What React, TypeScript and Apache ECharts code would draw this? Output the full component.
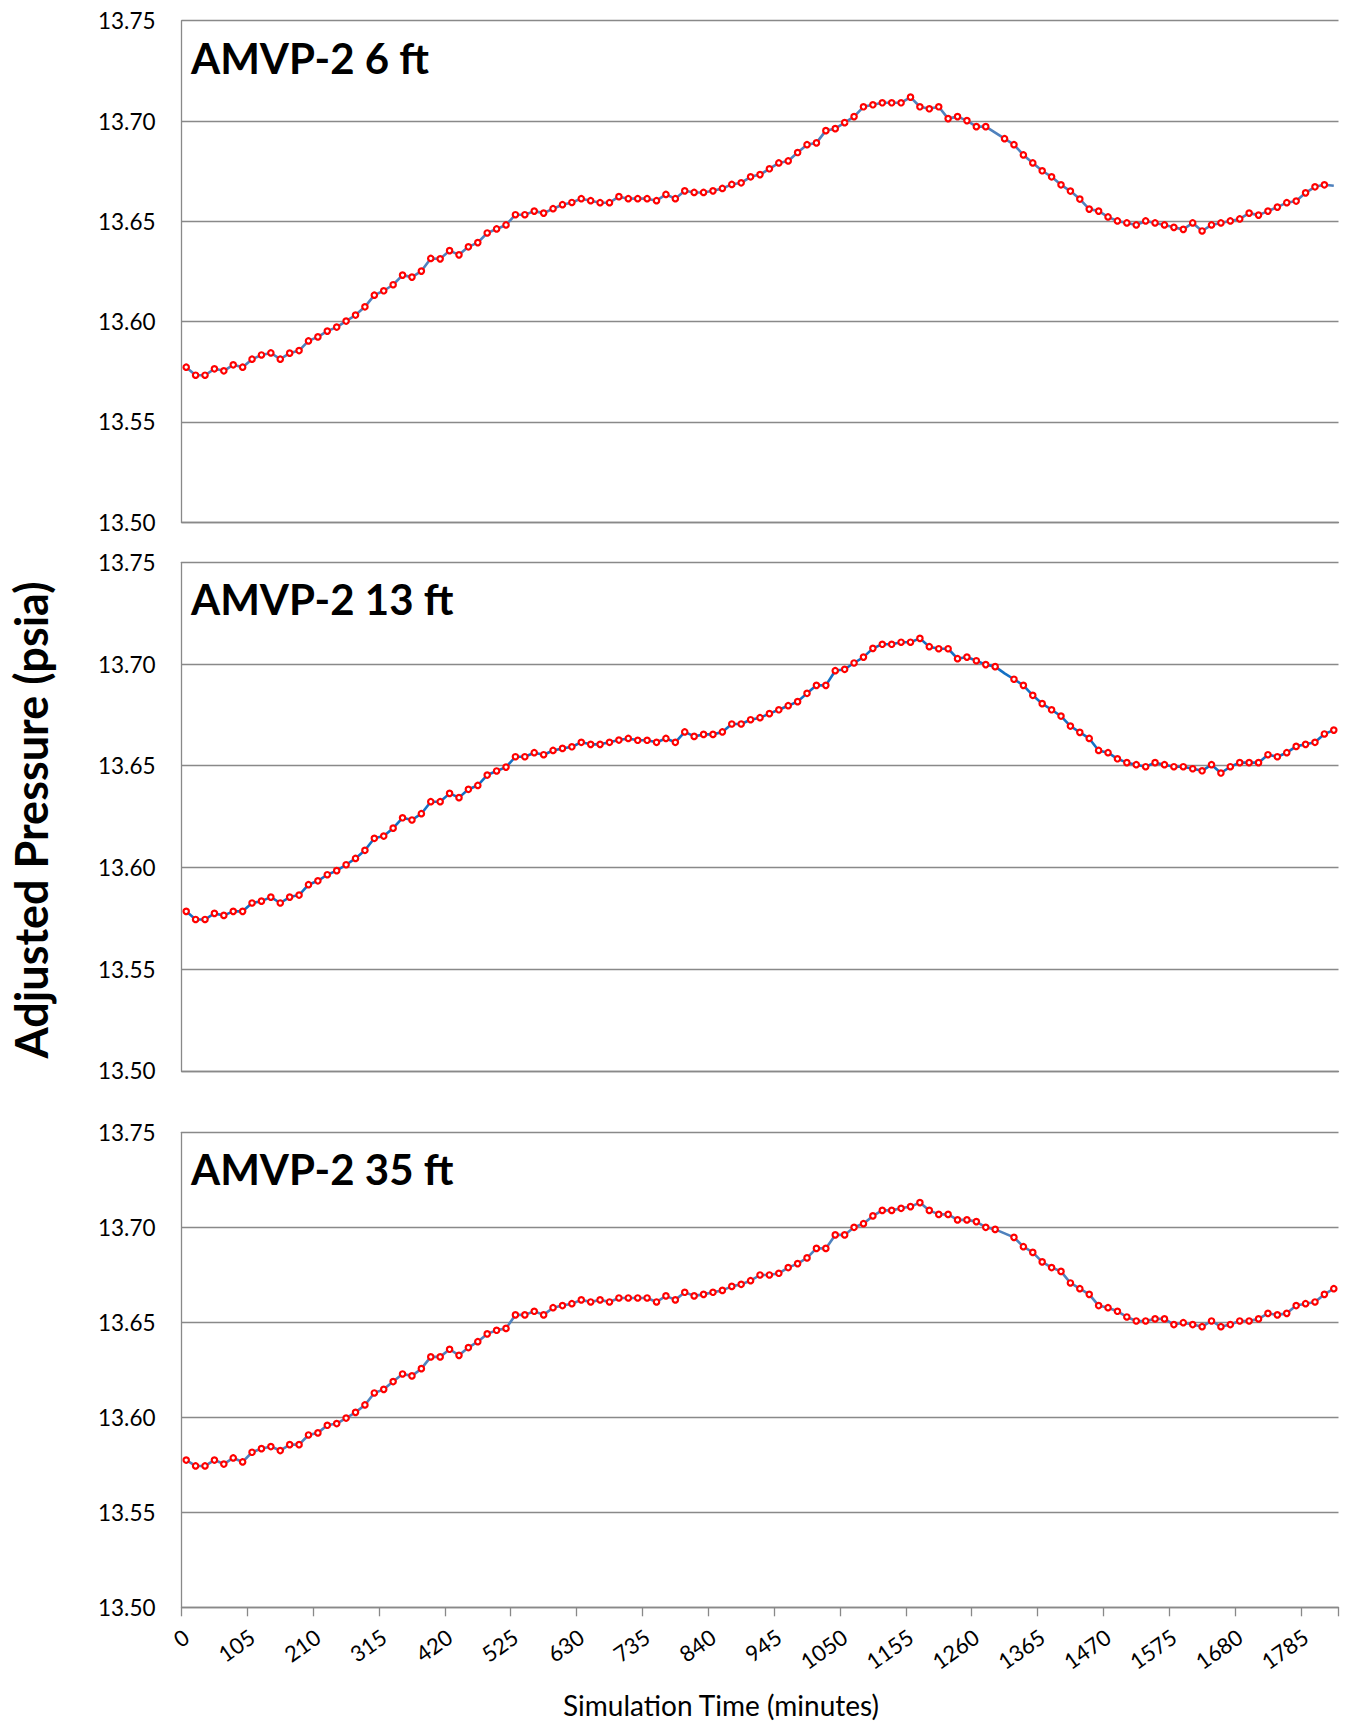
import React, { useEffect, useRef } from "react";
import * as echarts from "echarts";

// Category axis: simulation time in minutes, one category every 15 minutes
const timeMinutes: string[] = Array.from({ length: 123 }, (_, i) => String(i * 15));

const panelTitles = ["AMVP-2 6 ft", "AMVP-2 13 ft", "AMVP-2 35 ft"];
const yAxisTitle = "Adjusted Pressure (psia)";
const xAxisTitle = "Simulation Time (minutes)";

// Adjusted pressure (psia), AMVP-2 6 ft
const p6ft = [
  13.5773, 13.5733, 13.5733, 13.5765, 13.5755, 13.5785, 13.5773, 13.5813, 13.5834, 13.5844,
  13.5813, 13.5843, 13.5856, 13.5904, 13.5924, 13.5953, 13.5973, 13.6003, 13.6033, 13.6074,
  13.6132, 13.6154, 13.6184, 13.6232, 13.6222, 13.6252, 13.6315, 13.6313, 13.6354, 13.6333,
  13.6373, 13.6394, 13.6442, 13.6462, 13.6482, 13.6533, 13.6533, 13.6551, 13.6541, 13.6563,
  13.6583, 13.6594, 13.6613, 13.6603, 13.6593, 13.6593, 13.6623, 13.6613, 13.6613, 13.6613,
  13.6603, 13.6634, 13.6613, 13.6652, 13.6644, 13.6644, 13.6652, 13.6664, 13.6684, 13.6692,
  13.6722, 13.6733, 13.6762, 13.6791, 13.6801, 13.6843, 13.6882, 13.6891, 13.6952, 13.6962,
  13.6992, 13.7022, 13.7071, 13.7081, 13.7091, 13.7091, 13.7091, 13.7119, 13.7071, 13.7061,
  13.7071, 13.7012, 13.7022, 13.7002, 13.6972, 13.6972, 13.6942, 13.6912, 13.6882, 13.6831,
  13.6791, 13.6752, 13.6722, 13.6682, 13.6651, 13.6611, 13.6561, 13.6551, 13.6522, 13.6502,
  13.6492, 13.6482, 13.6502, 13.6492, 13.6482, 13.647, 13.646, 13.6492, 13.6452, 13.6482,
  13.6492, 13.6502, 13.6512, 13.6541, 13.6531, 13.6551, 13.6571, 13.6593, 13.6601, 13.6642,
  13.6672, 13.6682, 13.6677,
];
const p6ftNoMarker = [86, 122];

// Adjusted pressure (psia), AMVP-2 13 ft
const p13ft = [
  13.5784, 13.5744, 13.5744, 13.5774, 13.5764, 13.5784, 13.5784, 13.5825, 13.5834, 13.5854,
  13.5825, 13.5854, 13.5864, 13.5915, 13.5934, 13.5964, 13.5984, 13.6013, 13.6044, 13.6084,
  13.6143, 13.6154, 13.6193, 13.6244, 13.6233, 13.6264, 13.6323, 13.6323, 13.6364, 13.6343,
  13.6384, 13.6403, 13.6454, 13.6474, 13.6493, 13.6544, 13.6544, 13.6564, 13.6554, 13.6575,
  13.6585, 13.6593, 13.6615, 13.6605, 13.6605, 13.6615, 13.6626, 13.6634, 13.6625, 13.6625,
  13.6615, 13.6634, 13.6615, 13.6666, 13.6644, 13.6654, 13.6654, 13.6666, 13.6705, 13.6705,
  13.6726, 13.6736, 13.6756, 13.6775, 13.6795, 13.6815, 13.6856, 13.6895, 13.6895, 13.6967,
  13.6974, 13.7005, 13.7034, 13.7077, 13.7097, 13.7097, 13.7107, 13.7107, 13.7126, 13.7085,
  13.7075, 13.7075, 13.7026, 13.7034, 13.7016, 13.6997, 13.6987, 13.6954, 13.6925, 13.6895,
  13.6846, 13.6805, 13.6775, 13.6744, 13.6695, 13.6664, 13.6634, 13.6575, 13.6564, 13.6534,
  13.6515, 13.6505, 13.6495, 13.6515, 13.6505, 13.6495, 13.6495, 13.6485, 13.6475, 13.6505,
  13.6464, 13.6495, 13.6515, 13.6515, 13.6515, 13.6554, 13.6544, 13.6564, 13.6595, 13.6605,
  13.6615, 13.6656, 13.6675,
];
const p13ftNoMarker = [87];

// Adjusted pressure (psia), AMVP-2 35 ft
const p35ft = [
  13.5775, 13.5744, 13.5744, 13.5775, 13.5754, 13.5786, 13.5765, 13.5816, 13.5835, 13.5846,
  13.5825, 13.5856, 13.5856, 13.5907, 13.5918, 13.5958, 13.5967, 13.5996, 13.6026, 13.6065,
  13.6128, 13.6147, 13.6188, 13.6228, 13.6218, 13.6256, 13.6318, 13.6318, 13.6358, 13.6326,
  13.6367, 13.6398, 13.6439, 13.6458, 13.6468, 13.6539, 13.6539, 13.6558, 13.6539, 13.6577,
  13.6588, 13.6598, 13.6618, 13.6607, 13.6618, 13.6607, 13.6628, 13.6628, 13.6628, 13.6628,
  13.6607, 13.6639, 13.6618, 13.6658, 13.6639, 13.6647, 13.6658, 13.6668, 13.6689, 13.67,
  13.6719, 13.6749, 13.6749, 13.6758, 13.6788, 13.6809, 13.6839, 13.6889, 13.6889, 13.696,
  13.696, 13.7, 13.7019, 13.706, 13.7089, 13.7089, 13.71, 13.7109, 13.713, 13.7089,
  13.7068, 13.7068, 13.7039, 13.7039, 13.703, 13.7, 13.6989, 13.6968, 13.6947, 13.6898,
  13.6868, 13.6818, 13.6788, 13.6768, 13.6707, 13.6677, 13.6647, 13.6588, 13.6577, 13.6558,
  13.6528, 13.6507, 13.6507, 13.6518, 13.6518, 13.6488, 13.6498, 13.6488, 13.6477, 13.6507,
  13.6477, 13.6488, 13.6507, 13.6507, 13.6518, 13.6547, 13.6539, 13.6547, 13.6588, 13.6598,
  13.6607, 13.6647, 13.6677,
];
const p35ftNoMarker = [87];

const yMin = 13.5;
const yMax = 13.75;
const yStep = 0.05;
const labelEvery = 7;

const FONT = "Lato";
const GRAY = "#898989";

export default function App() {
  const ref = useRef<HTMLDivElement>(null);

  useEffect(() => {
    document.body.style.margin = "0";
    if (!ref.current) return;
    const chart = echarts.init(ref.current, null, { renderer: "svg" });

    const panels = [
      { title: panelTitles[0], values: p6ft, noMarker: p6ftNoMarker, color: "#4F81BD", top: 20.7, height: 501.6 },
      { title: panelTitles[1], values: p13ft, noMarker: p13ftNoMarker, color: "#1470C4", top: 562.3, height: 508.5 },
      { title: panelTitles[2], values: p35ft, noMarker: p35ftNoMarker, color: "#4F81BD", top: 1132.3, height: 475 },
    ];
    const left = 181.5;
    const width = 1157;

    const option: any = {
      animation: false,
      backgroundColor: "#ffffff",
      grid: panels.map((p) => ({ left, width, top: p.top, height: p.height })),
      xAxis: panels.map((p, i) => ({
        type: "category",
        gridIndex: i,
        data: timeMinutes,
        boundaryGap: true,
        axisLine: { show: true, onZero: false, lineStyle: { color: GRAY, width: 1.3 } },
        axisTick: {
          show: i === 2,
          interval: labelEvery - 1,
          alignWithLabel: false,
          length: 9,
          lineStyle: { color: GRAY, width: 1.3 },
        },
        axisLabel: {
          show: i === 2,
          interval: labelEvery - 1,
          rotate: 35,
          margin: 27,
          fontFamily: FONT,
          fontSize: 22,
          color: "#000",
        },
        splitLine: { show: false },
      })),
      yAxis: panels.map((p, i) => ({
        type: "value",
        gridIndex: i,
        min: yMin,
        max: yMax,
        interval: yStep,
        axisLine: { show: true, lineStyle: { color: GRAY, width: 1.3 } },
        axisTick: { show: false },
        axisLabel: {
          formatter: (v: number) => v.toFixed(2),
          margin: 26,
          fontFamily: FONT,
          fontSize: 22.5,
          color: "#000",
        },
        splitLine: { show: true, lineStyle: { color: GRAY, width: 1.3 } },
      })),
      series: panels.map((p, i) => ({
        type: "line",
        name: p.title,
        xAxisIndex: i,
        yAxisIndex: i,
        data: p.values.map((v, k) => (p.noMarker.includes(k) ? { value: v, symbol: "none" } : v)),
        symbol: "circle",
        symbolSize: 5.4,
        showAllSymbol: true,
        lineStyle: { color: p.color, width: 2.6 },
        itemStyle: { color: "#ffffff", borderColor: "#FF0000", borderWidth: 2.2 },
        emphasis: { disabled: true },
        z: 3,
      })),
      graphic: [
        ...panels.map((p) => ({
          type: "text",
          x: 191,
          y: p.top + 37,
          style: {
            text: p.title,
            fontFamily: FONT,
            fontSize: 42,
            fontWeight: "bold",
            fill: "#000",
            textAlign: "left",
            textVerticalAlign: "middle",
          },
        })),
        {
          type: "text",
          x: 31,
          y: 820,
          rotation: Math.PI / 2,
          style: {
            text: yAxisTitle,
            fontFamily: FONT,
            fontSize: 45,
            fontWeight: "bold",
            fill: "#000",
            textAlign: "center",
            textVerticalAlign: "middle",
          },
        },
        {
          type: "text",
          x: 721,
          y: 1705,
          style: {
            text: xAxisTitle,
            fontFamily: FONT,
            fontSize: 28,
            fill: "#000",
            textAlign: "center",
            textVerticalAlign: "middle",
          },
        },
      ],
    };

    chart.setOption(option);
    return () => chart.dispose();
  }, []);

  return <div ref={ref} style={{ width: 1347, height: 1727 }} />;
}
